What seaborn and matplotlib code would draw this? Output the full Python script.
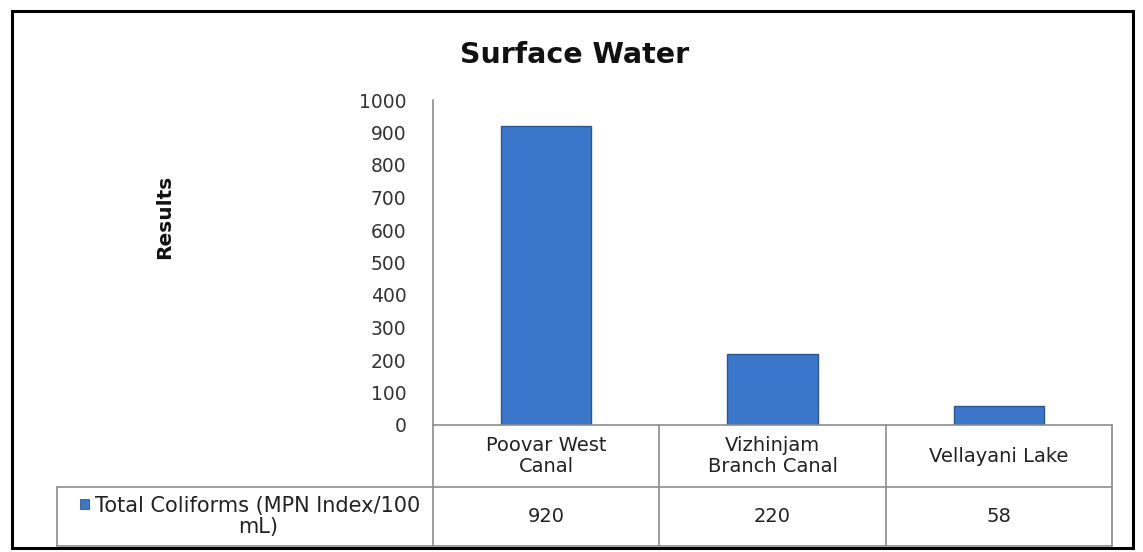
import matplotlib.pyplot as plt
import matplotlib.patches as mpatches
from matplotlib.lines import Line2D
import seaborn as sns

# data
sites = ["Poovar West\nCanal", "Vizhinjam\nBranch Canal", "Vellayani Lake"]
coliforms = [920, 220, 58]
series_label = "Total Coliforms (MPN Index/100\nmL)"
y_ticks = [0, 100, 200, 300, 400, 500, 600, 700, 800, 900, 1000]

sns.set_style("white")
plt.rcParams["font.family"] = ["DejaVu Sans"]

W, H = 1143, 552
fig = plt.figure(figsize=(W / 100, H / 100), dpi=100)


def fx(px):
    return px / W


def fy(py):
    return 1 - py / H


# axes in pixel coordinates of the reference
ax_left, ax_right, ax_top, ax_bottom = 433, 1112, 100, 425
ax = fig.add_axes([fx(ax_left), fy(ax_bottom),
                   (ax_right - ax_left) / W, (ax_bottom - ax_top) / H])

sns.barplot(x=sites, y=coliforms, ax=ax, width=0.4, color="#3A76C9",
            edgecolor="#2A5794", linewidth=1.0, saturation=1)

ax.set_ylim(0, 1000)
ax.set_xlim(-0.5, len(sites) - 0.5)
ax.set_yticks(y_ticks)
ax.set_yticklabels([str(t) for t in y_ticks], fontsize=13.5, color="#333333")
ax.tick_params(axis="y", length=0, pad=19)
ax.set_xticks([])
ax.set_xlabel("")
ax.set_ylabel("")
for s in ["top", "right", "bottom"]:
    ax.spines[s].set_visible(False)
ax.spines["left"].set_color("#8c8c8c")
ax.spines["left"].set_linewidth(1.2)

# data table under the plot, drawn by hand
tbl_left, row_mid, tbl_bottom = 57, 487, 546
grid = dict(color="#8c8c8c", linewidth=1.2, transform=fig.transFigure)


def hline(x0, x1, y):
    fig.add_artist(Line2D([fx(x0), fx(x1)], [fy(y), fy(y)], **grid))


def vline(x, y0, y1):
    fig.add_artist(Line2D([fx(x), fx(x)], [fy(y0), fy(y1)], **grid))


col_w = (ax_right - ax_left) / len(sites)
hline(ax_left, ax_right, ax_bottom)
hline(tbl_left, ax_right, row_mid)
hline(tbl_left, ax_right, tbl_bottom)
vline(tbl_left, row_mid, tbl_bottom)
for i in range(len(sites) + 1):
    vline(ax_left + i * col_w, ax_bottom, tbl_bottom)

for i, (name, val) in enumerate(zip(sites, coliforms)):
    cx = ax_left + (i + 0.5) * col_w
    fig.text(fx(cx), fy((ax_bottom + row_mid) / 2), name, ha="center",
             va="center", fontsize=14, color="#222222", linespacing=1.1)
    fig.text(fx(cx), fy((row_mid + tbl_bottom) / 2), str(val), ha="center",
             va="center", fontsize=14, color="#222222")

fig.text(fx(258), fy((row_mid + tbl_bottom) / 2), series_label,
         ha="center", va="center", multialignment="center",
         fontsize=15, color="#222222", linespacing=1.05)
# blue legend key in the row label cell
fig.patches.append(mpatches.Rectangle((fx(80), fy(509)), 9 / W, 10 / H,
                                      transform=fig.transFigure,
                                      facecolor="#3A76C9", edgecolor="#2A5794",
                                      linewidth=0.6))

fig.text(fx(575), fy(55), "Surface Water", ha="center", va="center",
         fontsize=20.5, fontweight="bold", color="#111111")
fig.text(fx(165), fy(217), "Results", ha="center", va="center",
         rotation=90, fontsize=14.5, fontweight="bold", color="#111111")

# outer chart frame
fig.patches.append(mpatches.Rectangle((fx(12), fy(548)), 1121 / W, 537 / H,
                                      transform=fig.transFigure, fill=False,
                                      edgecolor="black", linewidth=2.2))

fig.savefig("out.png", dpi=100)
